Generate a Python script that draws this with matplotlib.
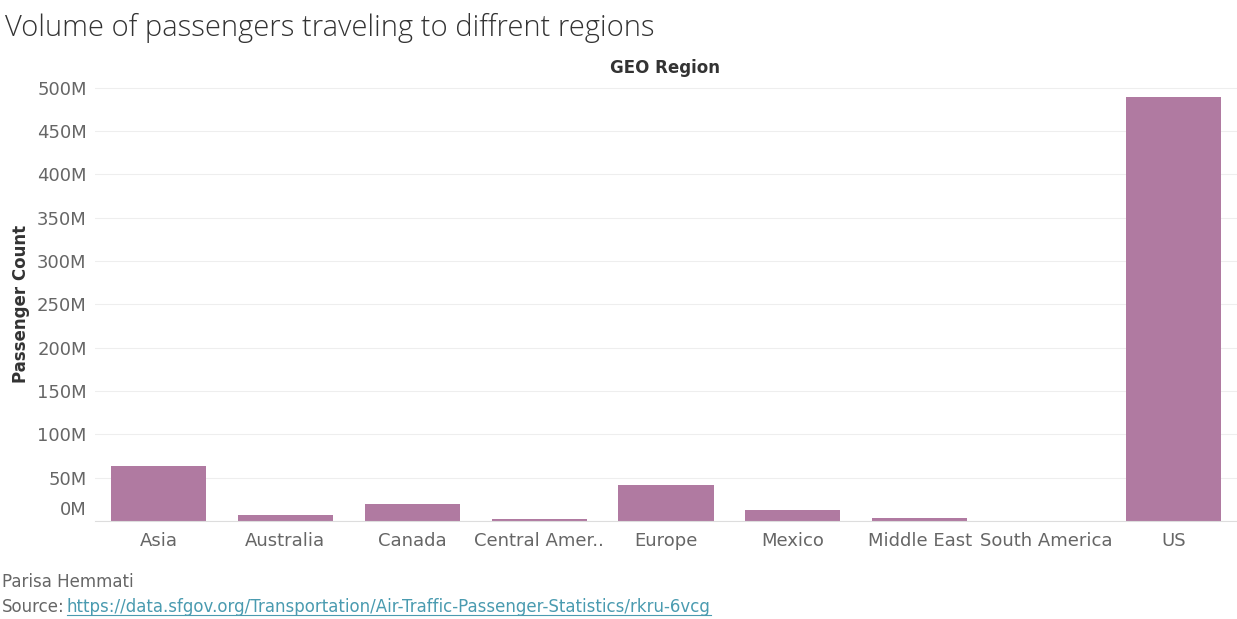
import matplotlib.pyplot as plt
import matplotlib.transforms as mtransforms
from matplotlib.ticker import FuncFormatter

regions = ["Asia", "Australia", "Canada", "Central Amer..", "Europe",
           "Mexico", "Middle East", "South America", "US"]
passengers_m = [64, 7, 20, 2.5, 41, 13, 3.5, 0.3, 489]
y_ticks = [0, 50, 100, 150, 200, 250, 300, 350, 400, 450, 500]

BAR_COLOR = "#b07aa1"
TICK_COLOR = "#666666"
LINK_COLOR = "#4a9bb0"

fig = plt.figure(figsize=(12.37, 6.19), dpi=100)
ax = fig.add_axes([95 / 1237, 1 - 521 / 619, (1237 - 95) / 1237, (521 - 86) / 619])

x = range(len(regions))
ax.bar(x, passengers_m, width=0.75, color=BAR_COLOR)

ax.set_xlim(-0.5, len(regions) - 0.5)
ax.set_ylim(0, 502)
ax.set_yticks(y_ticks)
ax.yaxis.set_major_formatter(FuncFormatter(lambda v, _: f"{int(v)}M"))
ax.set_xticks(list(x))
ax.set_xticklabels(regions)

ax.tick_params(axis="both", length=0, labelsize=13, labelcolor=TICK_COLOR, pad=8)
ax.tick_params(axis="y", pad=6)
# Tableau nudges the 0M label up so it does not clash with the axis
offset = mtransforms.ScaledTranslation(0, 13 / 100, fig.dpi_scale_trans)
zero_label = ax.get_yticklabels()[0]
zero_label.set_transform(zero_label.get_transform() + offset)

ax.grid(axis="y", color="#eeeeee", linewidth=0.8)
ax.set_axisbelow(True)
for side in ["top", "right", "left"]:
    ax.spines[side].set_visible(False)
ax.spines["bottom"].set_color("#dddddd")

ax.set_ylabel("Passenger Count", fontsize=12, color="#333333", fontweight="bold")
ax.yaxis.set_label_coords(-0.057, 0.5)
fig.text(665 / 1237, 1 - 68 / 619, "GEO Region", ha="center", va="center",
         fontsize=12, color="#333333", fontweight="bold")

fig.text(5 / 1237, 1 - 28 / 619, "Volume of passengers traveling to diffrent regions",
         ha="left", va="center", fontsize=21, color="#333333",
         family="Open Sans", fontweight="light")
fig.text(2 / 1237, 1 - 582 / 619, "Parisa Hemmati", ha="left", va="center",
         fontsize=12, color="#666666")
fig.text(2 / 1237, 1 - 607 / 619, "Source:", ha="left", va="center",
         fontsize=12, color="#666666")
link = fig.text(67 / 1237, 1 - 607 / 619,
                "https://data.sfgov.org/Transportation/Air-Traffic-Passenger-Statistics/rkru-6vcg",
                ha="left", va="center", fontsize=12, color=LINK_COLOR)

# underline the link across its real width
fig.canvas.draw()
bbox = link.get_window_extent().transformed(fig.transFigure.inverted())
line_y = bbox.y0 + 0.002
fig.add_artist(plt.Line2D([bbox.x0, bbox.x1], [line_y, line_y],
                          color=LINK_COLOR, linewidth=0.8))

fig.savefig("out.png", dpi=100)
